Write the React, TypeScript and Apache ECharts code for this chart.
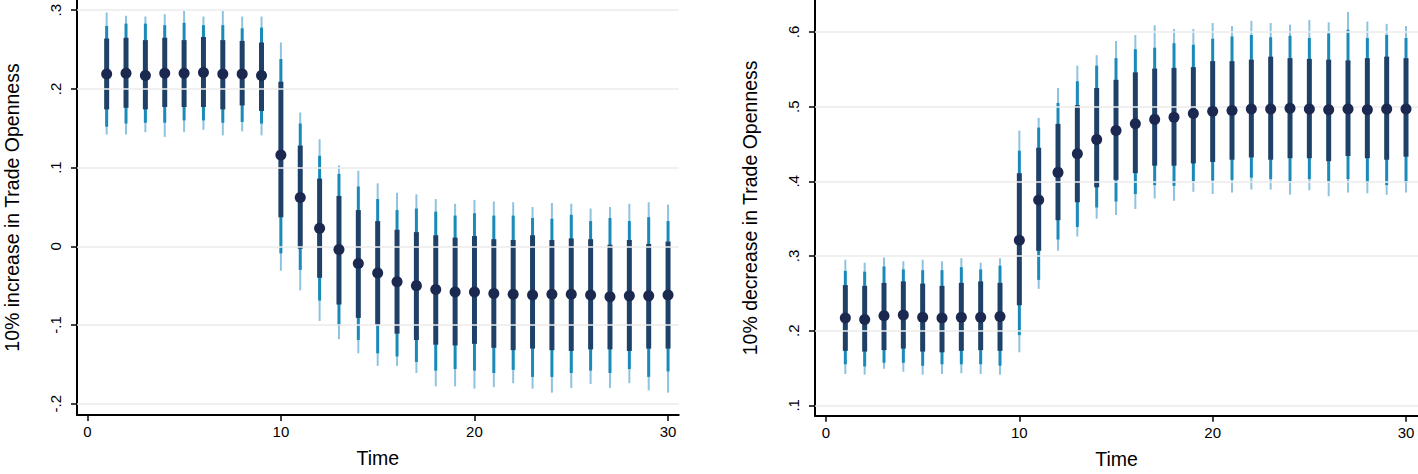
import React, { useEffect, useRef } from "react";
import * as echarts from "echarts";

const time = Array.from({ length: 30 }, (_, i) => i + 1);

// Left panel: 10% increase in Trade Openness
const incEst = [0.219,0.220,0.217,0.220,0.220,0.221,0.219,0.219,0.217,0.116,0.062,0.023,-0.004,-0.022,-0.034,-0.045,-0.050,-0.055,-0.058,-0.058,-0.060,-0.061,-0.062,-0.061,-0.061,-0.062,-0.064,-0.063,-0.063,-0.062];
const incHiInner = [0.264,0.265,0.262,0.265,0.262,0.266,0.262,0.261,0.259,0.209,0.128,0.086,0.064,0.046,0.032,0.021,0.018,0.014,0.011,0.013,0.009,0.008,0.014,0.008,0.010,0.009,0.002,0.008,0.003,0.006];
const incLoInner = [0.174,0.176,0.174,0.177,0.177,0.177,0.174,0.179,0.172,0.037,-0.003,-0.040,-0.074,-0.091,-0.100,-0.111,-0.119,-0.125,-0.126,-0.124,-0.129,-0.132,-0.130,-0.132,-0.133,-0.131,-0.131,-0.133,-0.130,-0.130];
const incHiMid = [0.280,0.283,0.283,0.281,0.284,0.281,0.281,0.277,0.278,0.238,0.156,0.115,0.092,0.076,0.060,0.046,0.048,0.044,0.039,0.042,0.039,0.039,0.036,0.035,0.040,0.032,0.036,0.032,0.037,0.032];
const incLoMid = [0.152,0.156,0.157,0.157,0.160,0.160,0.157,0.158,0.156,-0.009,-0.030,-0.069,-0.101,-0.119,-0.136,-0.140,-0.147,-0.158,-0.156,-0.158,-0.161,-0.157,-0.166,-0.166,-0.161,-0.158,-0.161,-0.156,-0.166,-0.159];
const incHiOuter = [0.297,0.293,0.292,0.295,0.299,0.292,0.299,0.292,0.292,0.259,0.170,0.136,0.103,0.096,0.080,0.068,0.066,0.060,0.054,0.059,0.057,0.056,0.050,0.055,0.054,0.048,0.050,0.054,0.056,0.053];
const incLoOuter = [0.142,0.142,0.145,0.139,0.145,0.148,0.141,0.146,0.141,-0.031,-0.056,-0.095,-0.118,-0.136,-0.152,-0.152,-0.161,-0.178,-0.178,-0.181,-0.179,-0.174,-0.181,-0.186,-0.180,-0.175,-0.180,-0.174,-0.183,-0.186];

// Right panel: 10% decrease in Trade Openness
const decEst = [0.217,0.215,0.220,0.221,0.218,0.217,0.218,0.218,0.219,0.321,0.375,0.412,0.437,0.456,0.468,0.477,0.483,0.486,0.491,0.494,0.495,0.497,0.497,0.498,0.497,0.496,0.497,0.496,0.497,0.497];
const decHiInner = [0.261,0.260,0.264,0.266,0.263,0.260,0.264,0.266,0.264,0.411,0.445,0.477,0.502,0.525,0.536,0.546,0.551,0.552,0.553,0.561,0.561,0.563,0.567,0.565,0.564,0.563,0.562,0.565,0.567,0.565];
const decLoInner = [0.173,0.172,0.174,0.176,0.172,0.171,0.173,0.174,0.173,0.234,0.307,0.348,0.372,0.392,0.402,0.411,0.421,0.421,0.424,0.426,0.429,0.432,0.429,0.431,0.431,0.427,0.434,0.431,0.429,0.433];
const decHiMid = [0.280,0.279,0.286,0.282,0.281,0.281,0.285,0.282,0.287,0.441,0.472,0.505,0.534,0.555,0.565,0.577,0.579,0.585,0.583,0.591,0.594,0.596,0.593,0.595,0.592,0.598,0.603,0.592,0.596,0.592];
const decLoMid = [0.155,0.152,0.157,0.157,0.153,0.155,0.155,0.155,0.153,0.194,0.268,0.322,0.339,0.365,0.373,0.383,0.395,0.394,0.400,0.401,0.402,0.405,0.403,0.400,0.403,0.400,0.403,0.398,0.395,0.398];
const decHiOuter = [0.295,0.291,0.298,0.293,0.295,0.293,0.297,0.291,0.297,0.468,0.485,0.525,0.555,0.569,0.588,0.596,0.609,0.604,0.604,0.612,0.608,0.615,0.612,0.610,0.616,0.613,0.627,0.614,0.611,0.608];
const decLoOuter = [0.142,0.141,0.149,0.145,0.141,0.142,0.143,0.142,0.141,0.171,0.256,0.307,0.326,0.350,0.355,0.363,0.377,0.374,0.386,0.383,0.385,0.389,0.389,0.382,0.388,0.380,0.385,0.384,0.382,0.385];

const xTicks = [0, 10, 20, 30];
const yTicksLeft = [-0.2, -0.1, 0, 0.1, 0.2, 0.3];
const yTicksRight = [0.1, 0.2, 0.3, 0.4, 0.5, 0.6];

const FONT = "'Liberation Sans', Arial, Helvetica, sans-serif";
const C_OUTER = "#8ec3e0";
const C_MID = "#1a8bb9";
const C_INNER = "#1f4168";
const C_DOT = "#1b2950";
const C_GRID = "#ebebeb";

const fmtY = (v: number) => {
  if (Math.abs(v) < 1e-9) return "0";
  return v.toFixed(1).replace("0.", ".");
};

function ciSeries(lo: number[], hi: number[], color: string, width: number, idx: number, z: number) {
  return {
    type: "custom",
    xAxisIndex: idx,
    yAxisIndex: idx,
    z,
    silent: true,
    data: time.map((t, i) => [t, lo[i], hi[i]]),
    encode: { x: 0, y: [1, 2] },
    renderItem: (_p: any, api: any) => {
      const a = api.coord([api.value(0), api.value(1)]);
      const b = api.coord([api.value(0), api.value(2)]);
      return {
        type: "line",
        shape: { x1: a[0], y1: a[1], x2: b[0], y2: b[1] },
        style: { stroke: color, lineWidth: width, lineCap: "butt" },
      };
    },
  };
}

function gridSeries(ticks: number[], idx: number) {
  return {
    type: "scatter",
    xAxisIndex: idx,
    yAxisIndex: idx,
    z: 0,
    data: [],
    silent: true,
    markLine: {
      silent: true,
      symbol: ["none", "none"],
      label: { show: false },
      lineStyle: { color: C_GRID, width: 1.5, type: "solid" },
      data: ticks.map((t) => ({ yAxis: t })),
    },
  };
}

function xAxisCfg(idx: number, min: number, max: number) {
  return {
    type: "value",
    gridIndex: idx,
    min,
    max,
    name: "Time",
    nameLocation: "middle",
    nameGap: 33,
    nameTextStyle: { fontFamily: FONT, fontSize: 19.5, color: "#000" },
    axisLine: { show: true, onZero: false, lineStyle: { color: "#000", width: 2 } },
    axisTick: { show: true, customValues: xTicks, length: 6, lineStyle: { color: "#000", width: 1.5 } },
    axisLabel: { customValues: xTicks, fontFamily: FONT, fontSize: 15, color: "#000", margin: 9 },
    splitLine: { show: false },
  };
}

function yAxisCfg(idx: number, min: number, max: number, ticks: number[], name: string) {
  return {
    type: "value",
    gridIndex: idx,
    min,
    max,
    name,
    nameLocation: "middle",
    nameGap: 55,
    nameTextStyle: { fontFamily: FONT, fontSize: 19.5, color: "#000" },
    axisLine: { show: true, onZero: false, lineStyle: { color: "#000", width: 2 } },
    axisTick: { show: true, customValues: ticks, length: 6, lineStyle: { color: "#000", width: 1.5 } },
    axisLabel: {
      customValues: ticks,
      rotate: 90,
      fontFamily: FONT,
      fontSize: 15,
      color: "#000",
      margin: 14,
      formatter: (v: number) => fmtY(v),
    },
    splitLine: { show: false },
  };
}

function panelSeries(idx: number, est: number[], loO: number[], hiO: number[], loM: number[], hiM: number[], loI: number[], hiI: number[], ticks: number[]) {
  return [
    gridSeries(ticks, idx),
    ciSeries(loO, hiO, C_OUTER, 2, idx, 2),
    ciSeries(loM, hiM, C_MID, 3, idx, 3),
    ciSeries(loI, hiI, C_INNER, 5, idx, 4),
    {
      type: "scatter",
      xAxisIndex: idx,
      yAxisIndex: idx,
      z: 5,
      silent: true,
      symbol: "circle",
      symbolSize: 11,
      itemStyle: { color: C_DOT, opacity: 1 },
      data: time.map((t, i) => [t, est[i]]),
    },
  ];
}

export default function App() {
  const ref = useRef<HTMLDivElement>(null);
  useEffect(() => {
    if (!ref.current) return;
    const chart = echarts.init(ref.current, undefined, { renderer: "svg" });
    chart.setOption({
      animation: false,
      backgroundColor: "#ffffff",
      grid: [
        { left: 77, top: 0, width: 601.7, height: 415 },
        { left: 815, top: 0, width: 603, height: 415.7 },
      ],
      xAxis: [xAxisCfg(0, -0.532, 30.55), xAxisCfg(1, -0.569, 30.62)],
      yAxis: [
        yAxisCfg(0, -0.2144, 0.313, yTicksLeft, "10% increase in Trade Openness"),
        yAxisCfg(1, 0.0861, 0.6429, yTicksRight, "10% decrease in Trade Openness"),
      ],
      series: [
        ...panelSeries(0, incEst, incLoOuter, incHiOuter, incLoMid, incHiMid, incLoInner, incHiInner, yTicksLeft),
        ...panelSeries(1, decEst, decLoOuter, decHiOuter, decLoMid, decHiMid, decLoInner, decHiInner, yTicksRight),
      ],
    });
    return () => chart.dispose();
  }, []);
  return (
    <div
      ref={ref}
      style={{ position: "fixed", left: 0, top: 0, width: 1418, height: 474, background: "#fff" }}
    />
  );
}
